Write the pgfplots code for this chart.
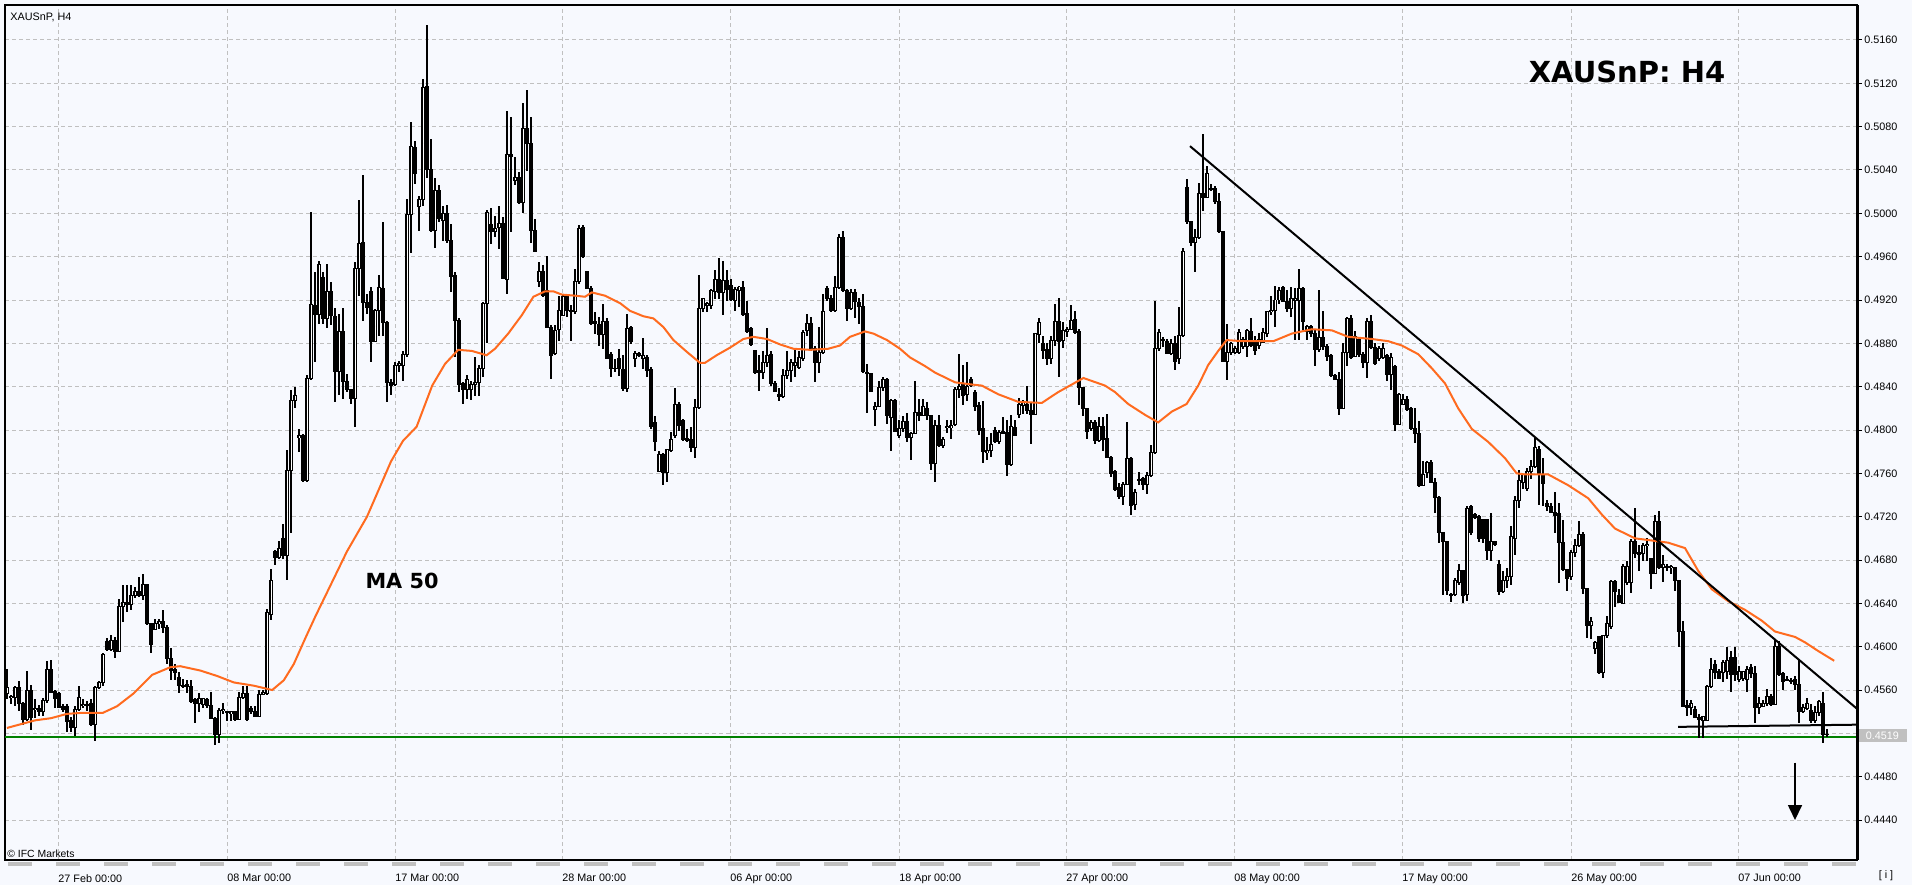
\documentclass[border=0pt]{standalone}
\usepackage{fontspec}
\setmainfont{Liberation Sans}
\newfontfamily\djv{DejaVu Sans}
\usepackage{pgfplots}
\usepackage{pgfplotstable}
\pgfplotsset{compat=1.18}
\usetikzlibrary{arrows.meta}
\definecolor{bgc}{RGB}{247,249,254}
\definecolor{gridc}{RGB}{192,192,192}
\definecolor{maorange}{RGB}{255,107,31}
\definecolor{supgreen}{RGB}{0,128,0}

\pgfplotstableread{
i o h l c
0 0.4557 0.4579 0.4552 0.4562
1 0.4553 0.4555 0.4547 0.4554
2 0.4553 0.4564 0.4545 0.4562
3 0.4562 0.4568 0.4541 0.4548
4 0.4548 0.4549 0.4528 0.4533
5 0.4533 0.4578 0.4531 0.4560
6 0.4560 0.4565 0.4523 0.4535
7 0.4542 0.4552 0.4534 0.4543
8 0.4543 0.4546 0.4536 0.4540
9 0.4540 0.4553 0.4536 0.4550
10 0.4550 0.4587 0.4548 0.4579
11 0.4579 0.4588 0.4557 0.4558
12 0.4559 0.4560 0.4543 0.4552
13 0.4557 0.4558 0.4543 0.4544
14 0.4545 0.4547 0.4540 0.4542
15 0.4545 0.4547 0.4521 0.4531
16 0.4532 0.4535 0.4521 0.4525
17 0.4525 0.4545 0.4518 0.4542
18 0.4542 0.4564 0.4541 0.4553
19 0.4546 0.4552 0.4543 0.4547
20 0.4547 0.4550 0.4541 0.4546
21 0.4548 0.4552 0.4527 0.4528
22 0.4528 0.4564 0.4513 0.4562
23 0.4562 0.4568 0.4561 0.4567
24 0.4567 0.4594 0.4564 0.4593
25 0.4605 0.4608 0.4596 0.4597
26 0.4597 0.4611 0.4596 0.4606
27 0.4606 0.4609 0.4590 0.4596
28 0.4596 0.4644 0.4596 0.4637
29 0.4637 0.4657 0.4623 0.4641
30 0.4641 0.4657 0.4632 0.4639
31 0.4639 0.4657 0.4634 0.4647
32 0.4647 0.4655 0.4645 0.4651
33 0.4651 0.4664 0.4646 0.4647
34 0.4647 0.4667 0.4643 0.4657
35 0.4657 0.4658 0.4620 0.4621
36 0.4621 0.4622 0.4594 0.4602
37 0.4616 0.4626 0.4615 0.4621
38 0.4621 0.4626 0.4616 0.4623
39 0.4623 0.4634 0.4613 0.4618
40 0.4618 0.4620 0.4584 0.4589
41 0.4589 0.4599 0.4569 0.4578
42 0.4579 0.4584 0.4569 0.4576
43 0.4572 0.4577 0.4557 0.4564
44 0.4564 0.4570 0.4562 0.4563
45 0.4565 0.4569 0.4557 0.4563
46 0.4563 0.4569 0.4548 0.4549
47 0.4551 0.4553 0.4530 0.4548
48 0.4548 0.4557 0.4540 0.4552
49 0.4547 0.4553 0.4543 0.4552
50 0.4551 0.4553 0.4543 0.4546
51 0.4546 0.4558 0.4533 0.4534
52 0.4534 0.4535 0.4509 0.4519
53 0.4519 0.4543 0.4511 0.4541
54 0.4541 0.4548 0.4538 0.4542
55 0.4540 0.4541 0.4531 0.4539
56 0.4538 0.4541 0.4531 0.4540
57 0.4540 0.4541 0.4531 0.4533
58 0.4533 0.4558 0.4532 0.4553
59 0.4553 0.4564 0.4552 0.4557
60 0.4557 0.4564 0.4531 0.4533
61 0.4543 0.4545 0.4538 0.4540
62 0.4540 0.4545 0.4535 0.4536
63 0.4536 0.4560 0.4535 0.4556
64 0.4556 0.4560 0.4555 0.4558
65 0.4557 0.4635 0.4555 0.4632
66 0.4630 0.4672 0.4625 0.4661
67 0.4688 0.4689 0.4675 0.4682
68 0.4682 0.4698 0.4681 0.4691
69 0.4700 0.4713 0.4681 0.4684
70 0.4684 0.4782 0.4662 0.4763
71 0.4763 0.4837 0.4705 0.4827
72 0.4827 0.4840 0.4820 0.4832
73 0.4793 0.4801 0.4780 0.4795
74 0.4795 0.4796 0.4752 0.4753
75 0.4753 0.4851 0.4752 0.4848
76 0.4848 0.5001 0.4846 0.4916
77 0.4915 0.4946 0.4863 0.4907
78 0.4907 0.4956 0.4898 0.4953
79 0.4941 0.4946 0.4898 0.4903
80 0.4903 0.4953 0.4894 0.4928
81 0.4928 0.4937 0.4897 0.4906
82 0.4905 0.4913 0.4826 0.4854
83 0.4854 0.4907 0.4832 0.4891
84 0.4891 0.4913 0.4829 0.4845
85 0.4845 0.4852 0.4835 0.4837
86 0.4837 0.4838 0.4824 0.4829
87 0.4829 0.4955 0.4803 0.4949
88 0.4949 0.5012 0.4924 0.4972
89 0.4973 0.5035 0.4901 0.4918
90 0.4918 0.4926 0.4907 0.4913
91 0.4928 0.4932 0.4863 0.4882
92 0.4882 0.4912 0.4881 0.4910
93 0.4910 0.4943 0.4887 0.4932
94 0.4931 0.4992 0.4887 0.4899
95 0.4899 0.4901 0.4826 0.4844
96 0.4844 0.4847 0.4832 0.4841
97 0.4842 0.4863 0.4841 0.4860
98 0.4860 0.4864 0.4854 0.4861
99 0.4860 0.4873 0.4845 0.4870
100 0.4870 0.5013 0.4867 0.4999
101 0.4999 0.5084 0.4963 0.5062
102 0.5061 0.5067 0.5027 0.5037
103 0.5006 0.5016 0.4984 0.5013
104 0.5013 0.5124 0.5007 0.5116
105 0.5117 0.5174 0.5033 0.5041
106 0.5041 0.5069 0.4983 0.4984
107 0.4984 0.5033 0.4968 0.5021
108 0.5021 0.5026 0.4992 0.4995
109 0.4993 0.5007 0.4974 0.5000
110 0.5000 0.5008 0.4973 0.4975
111 0.4975 0.4990 0.4927 0.4942
112 0.4943 0.4946 0.4867 0.4901
113 0.4901 0.4903 0.4835 0.4842
114 0.4843 0.4844 0.4824 0.4837
115 0.4837 0.4851 0.4829 0.4847
116 0.4837 0.4845 0.4828 0.4842
117 0.4842 0.4867 0.4831 0.4844
118 0.4844 0.4860 0.4831 0.4857
119 0.4857 0.4918 0.4849 0.4917
120 0.4917 0.5003 0.4880 0.5001
121 0.4990 0.5005 0.4972 0.4983
122 0.4983 0.4998 0.4978 0.4986
123 0.4987 0.5007 0.4967 0.4991
124 0.4991 0.4997 0.4939 0.4940
125 0.4939 0.5095 0.4926 0.5054
126 0.5054 0.5089 0.4983 0.5053
127 0.5030 0.5052 0.5026 0.5033
128 0.5033 0.5038 0.5009 0.5010
129 0.5010 0.5102 0.5000 0.5078
130 0.5078 0.5114 0.5039 0.5065
131 0.5065 0.5089 0.4973 0.4984
132 0.4984 0.4995 0.4964 0.4965
133 0.4937 0.4955 0.4932 0.4946
134 0.4946 0.4952 0.4923 0.4924
135 0.4929 0.4961 0.4894 0.4895
136 0.4895 0.4897 0.4847 0.4869
137 0.4871 0.4897 0.4869 0.4892
138 0.4893 0.4924 0.4882 0.4910
139 0.4906 0.4926 0.4905 0.4923
140 0.4923 0.4926 0.4904 0.4910
141 0.4910 0.4915 0.4882 0.4909
142 0.4909 0.4949 0.4907 0.4937
143 0.4937 0.4989 0.4935 0.4986
144 0.4987 0.4989 0.4959 0.4960
145 0.4946 0.4947 0.4930 0.4931
146 0.4931 0.4933 0.4897 0.4898
147 0.4900 0.4909 0.4889 0.4898
148 0.4897 0.4904 0.4878 0.4888
149 0.4888 0.4916 0.4875 0.4900
150 0.4900 0.4903 0.4866 0.4866
151 0.4870 0.4872 0.4849 0.4857
152 0.4857 0.4866 0.4854 0.4857
153 0.4866 0.4875 0.4850 0.4857
154 0.4856 0.4869 0.4836 0.4838
155 0.4838 0.4907 0.4835 0.4894
156 0.4895 0.4896 0.4879 0.4882
157 0.4866 0.4873 0.4858 0.4871
158 0.4871 0.4872 0.4867 0.4869
159 0.4866 0.4885 0.4856 0.4869
160 0.4867 0.4869 0.4849 0.4855
161 0.4856 0.4858 0.4801 0.4803
162 0.4807 0.4813 0.4781 0.4789
163 0.4762 0.4781 0.4761 0.4777
164 0.4777 0.4779 0.4749 0.4761
165 0.4761 0.4782 0.4752 0.4782
166 0.4781 0.4798 0.4780 0.4791
167 0.4795 0.4839 0.4793 0.4824
168 0.4824 0.4826 0.4799 0.4804
169 0.4809 0.4810 0.4790 0.4791
170 0.4792 0.4801 0.4789 0.4790
171 0.4791 0.4803 0.4780 0.4784
172 0.4784 0.4829 0.4774 0.4821
173 0.4821 0.4943 0.4819 0.4912
174 0.4912 0.4922 0.4909 0.4921
175 0.4915 0.4918 0.4909 0.4917
176 0.4915 0.4930 0.4912 0.4929
177 0.4928 0.4948 0.4921 0.4939
178 0.4939 0.4959 0.4921 0.4927
179 0.4927 0.4956 0.4906 0.4938
180 0.4938 0.4948 0.4919 0.4930
181 0.4933 0.4939 0.4919 0.4920
182 0.4920 0.4932 0.4910 0.4930
183 0.4929 0.4933 0.4914 0.4932
184 0.4932 0.4938 0.4905 0.4907
185 0.4908 0.4919 0.4890 0.4891
186 0.4894 0.4895 0.4878 0.4879
187 0.4873 0.4874 0.4852 0.4853
188 0.4855 0.4869 0.4836 0.4853
189 0.4853 0.4873 0.4847 0.4862
190 0.4862 0.4894 0.4858 0.4869
191 0.4870 0.4873 0.4841 0.4843
192 0.4843 0.4845 0.4835 0.4836
193 0.4833 0.4839 0.4827 0.4831
194 0.4831 0.4856 0.4830 0.4850
195 0.4850 0.4873 0.4847 0.4855
196 0.4855 0.4866 0.4844 0.4862
197 0.4860 0.4875 0.4849 0.4862
198 0.4858 0.4873 0.4856 0.4867
199 0.4866 0.4892 0.4864 0.4890
200 0.4892 0.4907 0.4887 0.4898
201 0.4898 0.4904 0.4873 0.4875
202 0.4875 0.4878 0.4844 0.4862
203 0.4862 0.4895 0.4853 0.4872
204 0.4872 0.4926 0.4870 0.4909
205 0.4931 0.4933 0.4919 0.4921
206 0.4921 0.4925 0.4909 0.4910
207 0.4910 0.4942 0.4909 0.4932
208 0.4932 0.4981 0.4930 0.4978
209 0.4978 0.4984 0.4927 0.4929
210 0.4929 0.4930 0.4901 0.4912
211 0.4912 0.4930 0.4911 0.4927
212 0.4927 0.4930 0.4903 0.4919
213 0.4918 0.4922 0.4898 0.4914
214 0.4914 0.4926 0.4853 0.4854
215 0.4853 0.4861 0.4816 0.4852
216 0.4852 0.4853 0.4835 0.4836
217 0.4819 0.4826 0.4804 0.4822
218 0.4822 0.4845 0.4821 0.4839
219 0.4839 0.4849 0.4836 0.4847
220 0.4847 0.4848 0.4806 0.4813
221 0.4812 0.4829 0.4781 0.4827
222 0.4827 0.4829 0.4798 0.4799
223 0.4795 0.4809 0.4793 0.4801
224 0.4801 0.4813 0.4798 0.4808
225 0.4808 0.4816 0.4789 0.4793
226 0.4793 0.4798 0.4772 0.4797
227 0.4797 0.4845 0.4796 0.4816
228 0.4816 0.4829 0.4808 0.4813
229 0.4813 0.4829 0.4813 0.4822
230 0.4820 0.4826 0.4809 0.4813
231 0.4813 0.4814 0.4763 0.4769
232 0.4769 0.4809 0.4752 0.4804
233 0.4804 0.4814 0.4784 0.4786
234 0.4786 0.4794 0.4783 0.4791
235 0.4802 0.4809 0.4797 0.4803
236 0.4802 0.4809 0.4792 0.4804
237 0.4805 0.4840 0.4804 0.4837
238 0.4837 0.4870 0.4830 0.4840
239 0.4842 0.4860 0.4823 0.4832
240 0.4833 0.4863 0.4827 0.4840
241 0.4847 0.4849 0.4840 0.4841
242 0.4835 0.4837 0.4818 0.4822
243 0.4823 0.4826 0.4795 0.4800
244 0.4801 0.4827 0.4770 0.4780
245 0.4779 0.4794 0.4772 0.4781
246 0.4781 0.4797 0.4775 0.4787
247 0.4800 0.4803 0.4788 0.4789
248 0.4789 0.4800 0.4787 0.4798
249 0.4799 0.4812 0.4796 0.4797
250 0.4798 0.4809 0.4758 0.4768
251 0.4768 0.4814 0.4767 0.4803
252 0.4802 0.4809 0.4795 0.4795
253 0.4814 0.4830 0.4811 0.4824
254 0.4823 0.4828 0.4815 0.4825
255 0.4824 0.4841 0.4815 0.4818
256 0.4818 0.4826 0.4787 0.4814
257 0.4814 0.4890 0.4814 0.4889
258 0.4888 0.4903 0.4880 0.4899
259 0.4880 0.4887 0.4866 0.4873
260 0.4874 0.4880 0.4860 0.4866
261 0.4866 0.4887 0.4861 0.4883
262 0.4883 0.4916 0.4878 0.4900
263 0.4900 0.4922 0.4849 0.4882
264 0.4883 0.4900 0.4876 0.4892
265 0.4891 0.4895 0.4886 0.4893
266 0.4893 0.4915 0.4892 0.4901
267 0.4902 0.4910 0.4889 0.4890
268 0.4891 0.4893 0.4823 0.4839
269 0.4839 0.4840 0.4813 0.4820
270 0.4820 0.4820 0.4792 0.4799
271 0.4801 0.4809 0.4799 0.4807
272 0.4807 0.4809 0.4787 0.4790
273 0.4790 0.4812 0.4789 0.4803
274 0.4803 0.4812 0.4781 0.4791
275 0.4792 0.4815 0.4774 0.4775
276 0.4775 0.4776 0.4757 0.4760
277 0.4762 0.4763 0.4744 0.4745
278 0.4747 0.4751 0.4736 0.4739
279 0.4739 0.4752 0.4731 0.4750
280 0.4750 0.4807 0.4749 0.4774
281 0.4774 0.4775 0.4722 0.4730
282 0.4731 0.4746 0.4726 0.4742
283 0.4754 0.4761 0.4749 0.4754
284 0.4755 0.4757 0.4745 0.4750
285 0.4750 0.4761 0.4741 0.4758
286 0.4758 0.4786 0.4757 0.4779
287 0.4779 0.4919 0.4778 0.4875
288 0.4875 0.4893 0.4873 0.4890
289 0.4884 0.4886 0.4877 0.4883
290 0.4882 0.4884 0.4870 0.4871
291 0.4871 0.4884 0.4869 0.4880
292 0.4880 0.4887 0.4855 0.4863
293 0.4866 0.4914 0.4861 0.4887
294 0.4887 0.4968 0.4886 0.4965
295 0.5024 0.5032 0.4990 0.4992
296 0.4992 0.4993 0.4970 0.4973
297 0.4973 0.4986 0.4946 0.4978
298 0.4978 0.5028 0.4976 0.5018
299 0.5018 0.5073 0.5002 0.5015
300 0.5015 0.5044 0.5014 0.5037
301 0.5023 0.5027 0.5021 0.5022
302 0.5023 0.5025 0.5009 0.5011
303 0.5011 0.5019 0.4982 0.4983
304 0.4983 0.4984 0.4863 0.4863
305 0.4863 0.4898 0.4846 0.4872
306 0.4872 0.4881 0.4869 0.4880
307 0.4872 0.4878 0.4870 0.4875
308 0.4872 0.4893 0.4870 0.4890
309 0.4877 0.4886 0.4875 0.4884
310 0.4877 0.4893 0.4867 0.4892
311 0.4891 0.4903 0.4877 0.4878
312 0.4881 0.4887 0.4869 0.4873
313 0.4878 0.4890 0.4875 0.4884
314 0.4881 0.4894 0.4880 0.4890
315 0.4889 0.4910 0.4886 0.4909
316 0.4909 0.4924 0.4906 0.4910
317 0.4910 0.4933 0.4895 0.4920
318 0.4920 0.4932 0.4916 0.4929
319 0.4932 0.4933 0.4918 0.4919
320 0.4919 0.4929 0.4909 0.4912
321 0.4912 0.4932 0.4904 0.4921
322 0.4920 0.4931 0.4883 0.4921
323 0.4920 0.4949 0.4883 0.4931
324 0.4931 0.4932 0.4892 0.4900
325 0.4891 0.4897 0.4883 0.4896
326 0.4896 0.4897 0.4886 0.4889
327 0.4889 0.4893 0.4859 0.4874
328 0.4874 0.4929 0.4872 0.4885
329 0.4885 0.4910 0.4874 0.4877
330 0.4877 0.4879 0.4864 0.4868
331 0.4869 0.4870 0.4849 0.4850
332 0.4850 0.4852 0.4846 0.4847
333 0.4847 0.4854 0.4814 0.4820
334 0.4820 0.4880 0.4819 0.4872
335 0.4872 0.4904 0.4859 0.4903
336 0.4903 0.4906 0.4866 0.4867
337 0.4868 0.4891 0.4867 0.4886
338 0.4884 0.4886 0.4867 0.4870
339 0.4870 0.4872 0.4857 0.4862
340 0.4862 0.4903 0.4848 0.4900
341 0.4900 0.4906 0.4875 0.4876
342 0.4876 0.4880 0.4860 0.4861
343 0.4866 0.4878 0.4864 0.4875
344 0.4867 0.4880 0.4866 0.4875
345 0.4869 0.4870 0.4845 0.4851
346 0.4851 0.4871 0.4837 0.4867
347 0.4859 0.4860 0.4799 0.4805
348 0.4805 0.4834 0.4805 0.4833
349 0.4824 0.4833 0.4823 0.4828
350 0.4828 0.4831 0.4818 0.4819
351 0.4820 0.4821 0.4800 0.4801
352 0.4801 0.4820 0.4788 0.4797
353 0.4797 0.4808 0.4747 0.4749
354 0.4749 0.4771 0.4749 0.4759
355 0.4761 0.4771 0.4756 0.4770
356 0.4770 0.4772 0.4752 0.4752
357 0.4752 0.4756 0.4723 0.4738
358 0.4738 0.4739 0.4696 0.4705
359 0.4705 0.4706 0.4648 0.4697
360 0.4697 0.4697 0.4648 0.4652
361 0.4648 0.4650 0.4641 0.4647
362 0.4648 0.4663 0.4647 0.4661
363 0.4659 0.4676 0.4657 0.4670
364 0.4670 0.4671 0.4640 0.4647
365 0.4648 0.4730 0.4642 0.4728
366 0.4729 0.4731 0.4703 0.4705
367 0.4722 0.4723 0.4718 0.4719
368 0.4720 0.4722 0.4697 0.4700
369 0.4717 0.4718 0.4696 0.4700
370 0.4717 0.4718 0.4680 0.4689
371 0.4689 0.4723 0.4679 0.4697
372 0.4697 0.4697 0.4693 0.4694
373 0.4676 0.4680 0.4648 0.4651
374 0.4651 0.4670 0.4650 0.4661
375 0.4661 0.4673 0.4654 0.4665
376 0.4665 0.4711 0.4657 0.4702
377 0.4700 0.4739 0.4685 0.4735
378 0.4735 0.4763 0.4728 0.4753
379 0.4752 0.4759 0.4746 0.4759
380 0.4746 0.4765 0.4744 0.4762
381 0.4762 0.4772 0.4755 0.4766
382 0.4766 0.4794 0.4765 0.4784
383 0.4782 0.4785 0.4731 0.4759
384 0.4759 0.4774 0.4730 0.4751
385 0.4732 0.4735 0.4725 0.4729
386 0.4729 0.4733 0.4723 0.4724
387 0.4724 0.4743 0.4705 0.4721
388 0.4723 0.4733 0.4659 0.4696
389 0.4696 0.4717 0.4670 0.4671
390 0.4671 0.4672 0.4651 0.4663
391 0.4665 0.4689 0.4662 0.4687
392 0.4687 0.4699 0.4683 0.4693
393 0.4693 0.4716 0.4692 0.4704
394 0.4704 0.4706 0.4649 0.4654
395 0.4654 0.4654 0.4608 0.4620
396 0.4620 0.4627 0.4607 0.4623
397 0.4598 0.4605 0.4593 0.4604
398 0.4609 0.4610 0.4575 0.4576
399 0.4576 0.4611 0.4571 0.4610
400 0.4610 0.4628 0.4608 0.4621
401 0.4619 0.4662 0.4616 0.4660
402 0.4660 0.4662 0.4637 0.4651
403 0.4647 0.4653 0.4640 0.4641
404 0.4640 0.4676 0.4639 0.4674
405 0.4659 0.4679 0.4657 0.4674
406 0.4659 0.4699 0.4650 0.4697
407 0.4697 0.4728 0.4682 0.4686
408 0.4687 0.4694 0.4670 0.4685
409 0.4686 0.4696 0.4679 0.4693
410 0.4693 0.4700 0.4679 0.4694
411 0.4681 0.4682 0.4653 0.4668
412 0.4668 0.4722 0.4667 0.4716
413 0.4716 0.4725 0.4672 0.4673
414 0.4673 0.4685 0.4660 0.4676
415 0.4674 0.4676 0.4670 0.4673
416 0.4673 0.4675 0.4667 0.4674
417 0.4673 0.4674 0.4651 0.4661
418 0.4661 0.4662 0.4600 0.4614
419 0.4614 0.4624 0.4544 0.4545
420 0.4546 0.4551 0.4536 0.4544
421 0.4544 0.4551 0.4537 0.4548
422 0.4542 0.4545 0.4534 0.4535
423 0.4535 0.4538 0.4516 0.4533
424 0.4532 0.4536 0.4516 0.4536
425 0.4532 0.4565 0.4531 0.4563
426 0.4563 0.4590 0.4562 0.4579
427 0.4584 0.4588 0.4570 0.4576
428 0.4577 0.4579 0.4571 0.4571
429 0.4576 0.4588 0.4567 0.4585
430 0.4577 0.4600 0.4570 0.4587
431 0.4590 0.4596 0.4558 0.4574
432 0.4590 0.4600 0.4568 0.4574
433 0.4570 0.4582 0.4567 0.4577
434 0.4571 0.4577 0.4568 0.4577
435 0.4570 0.4582 0.4558 0.4579
436 0.4581 0.4584 0.4571 0.4575
437 0.4575 0.4582 0.4530 0.4544
438 0.4544 0.4554 0.4538 0.4548
439 0.4545 0.4551 0.4544 0.4548
440 0.4548 0.4561 0.4545 0.4554
441 0.4554 0.4556 0.4545 0.4547
442 0.4547 0.4607 0.4546 0.4600
443 0.4600 0.4605 0.4573 0.4574
444 0.4575 0.4577 0.4560 0.4568
445 0.4570 0.4573 0.4568 0.4569
446 0.4569 0.4571 0.4566 0.4568
447 0.4570 0.4573 0.4560 0.4565
448 0.4565 0.4589 0.4530 0.4540
449 0.4540 0.4547 0.4539 0.4544
450 0.4543 0.4553 0.4542 0.4548
451 0.4541 0.4547 0.4530 0.4532
452 0.4532 0.4545 0.4530 0.4539
453 0.4539 0.4551 0.4536 0.4549
454 0.4548 0.4558 0.4511 0.4519
455 0.4519 0.4524 0.4517 0.4519
}\candles

\begin{document}
\begin{tikzpicture}
\fill[bgc] (-2.5pt,-12.5pt) rectangle (953.5pt,430pt);
\begin{axis}[
  at={(0,0)}, anchor=south west,
  scale only axis, width=926pt, height=427.5pt,
  xmin=-0.5, xmax=462.5, ymin=0.44031, ymax=0.51923,
  clip=false,
  axis background/.style={fill=bgc},
  axis line style={black, line width=0.6pt},
  xtick={12.75,55,97,138.75,180.75,223,264.75,306.75,348.75,391,432.75},
  xticklabels={27 Feb 00:00,08 Mar 00:00,17 Mar 00:00,28 Mar 00:00,06 Apr 00:00,18 Apr 00:00,27 Apr 00:00,08 May 00:00,17 May 00:00,26 May 00:00,07 Jun 00:00},
  ytick={0.4440,0.4480,0.4520,0.4560,0.4600,0.4640,0.4680,0.4720,0.4760,0.4800,0.4840,0.4880,0.4920,0.4960,0.5000,0.5040,0.5080,0.5120,0.5160},
  yticklabels={0.4440,0.4480,{},0.4560,0.4600,0.4640,0.4680,0.4720,0.4760,0.4800,0.4840,0.4880,0.4920,0.4960,0.5000,0.5040,0.5080,0.5120,0.5160},
  ytick pos=right, yticklabel pos=right, xtick pos=bottom,
  tick align=outside,
  major tick length=2.5pt,
  x tick style={draw=none},
  y tick style={black, line width=0.5pt},
  tick label style={font=\fontsize{5.4}{6}\selectfont, text=black},
  yticklabel style={anchor=west, inner sep=0pt, xshift=1pt},
  xticklabel style={anchor=north west, inner sep=0pt, yshift=-4.5pt},
  grid=major,
  major grid style={gridc, line width=0.5pt, dash pattern=on 2pt off 1.5pt},
  candle/.style={only marks, mark=*, mark size=0pt, mark options={draw=none, fill=none}},
]
% support (green)
\draw[supgreen, line width=1pt] (axis cs:-0.5,0.4517) -- (axis cs:462.5,0.4517);

% wicks
\addplot[candle,
  error bars/.cd, y dir=both, y explicit, error mark=none,
  error bar style={draw=black, line width=0.55pt}]
  table[x=i, y expr={(\thisrow{h}+\thisrow{l})/2}, y error expr={(\thisrow{h}-\thisrow{l})/2}] {\candles};
% bodies (outline / black)
\addplot[candle,
  error bars/.cd, y dir=both, y explicit, error mark=none,
  error bar style={draw=black, line width=1.6pt}]
  table[x=i, y expr={(\thisrow{o}+\thisrow{c})/2}, y error expr={abs(\thisrow{c}-\thisrow{o})/2+0.000046}] {\candles};
% white interiors of rising candles
\addplot[candle, unbounded coords=discard,
  error bars/.cd, y dir=both, y explicit, error mark=none,
  error bar style={draw=white, line width=0.5pt}]
  table[x=i, y expr={\thisrow{c}>\thisrow{o} ? (\thisrow{o}+\thisrow{c})/2 : nan}, y error expr={max((\thisrow{c}-\thisrow{o})/2-0.000046,0)}] {\candles};

% MA 50
\addplot[maorange, line width=1pt, mark=none] coordinates {
(0,0.4525) (3,0.4528) (7,0.4532) (11,0.4534) (15,0.4538) (19,0.4539) (24,0.4539) (27.5,0.4545) (31.7,0.4557) (36.3,0.4574) (40.8,0.4581) (43.3,0.4582) (48.3,0.4578) (52.5,0.4573) (56.7,0.4567) (61.7,0.4564) (66.3,0.4560) (69.2,0.4569) (71.7,0.4584) (74.6,0.4608) (77.1,0.4628) (80,0.4650) (85,0.4688) (90,0.4720) (96,0.4771) (99,0.4790) (102.4,0.4803) (106.3,0.4841) (109.5,0.4861) (112.8,0.4874) (116.2,0.4873) (119.9,0.4869) (122,0.4875) (125.3,0.4889) (128.7,0.4906) (131.6,0.4923) (134.5,0.4928) (136.6,0.4928) (138.7,0.4925) (142,0.4924) (144.5,0.4923) (146.2,0.4927) (149.5,0.4924) (153.3,0.4917) (155.75,0.4910) (159.1,0.4905) (161.6,0.4903) (164.1,0.4895) (166.6,0.4883) (170,0.4872) (173.25,0.4862) (174.5,0.4862) (177.4,0.4869) (180.75,0.4876) (184.1,0.4884) (186.6,0.4886) (190,0.4884) (193.25,0.4879) (196.6,0.4875) (200.75,0.4874) (205.3,0.4875) (208.25,0.4878) (210.75,0.4886) (214.5,0.4891) (216.6,0.4889) (220,0.4883) (223.25,0.4875) (225.75,0.4867) (229.5,0.4859) (232,0.4853) (237,0.4844) (241.2,0.4842) (243.7,0.4841) (247.8,0.4833) (252.8,0.4826) (258.7,0.4825) (262.8,0.4835) (266.2,0.4842) (269.1,0.4848) (274.5,0.4841) (277,0.4835) (280.3,0.4824) (284.5,0.4814) (287.8,0.4807) (291.2,0.4817) (294.9,0.4824) (297.8,0.4841) (300.3,0.4860) (302.8,0.4873) (304.9,0.4883) (308.8,0.4882) (316.6,0.4882) (321.2,0.4889) (326.2,0.4893) (331.2,0.4892) (335.3,0.4886) (341.2,0.4884) (345.3,0.4882) (348.7,0.4878) (352.8,0.4870) (356.2,0.4857) (359.5,0.4843) (362.8,0.4820) (366.2,0.4801) (370.3,0.4789) (374.5,0.4774) (377.4,0.4760) (379.5,0.4759) (384,0.4759) (385.3,0.4759) (390.3,0.4749) (395.3,0.4737) (398.7,0.4722) (402,0.4709) (407,0.4700) (411.2,0.4698) (415.3,0.4696) (419.5,0.4691) (422.8,0.4670) (426.2,0.4653) (430.3,0.4642) (434.5,0.4634) (438.7,0.4624) (442,0.4614) (447,0.4609) (449.5,0.4604) (452.8,0.4596) (456.8,0.4587)
};

% trend lines
\draw[black, line width=1pt] (axis cs:295.75,0.5062) -- (axis cs:462.4,0.4543);
\draw[black, line width=1pt] (axis cs:417.75,0.4526) -- (axis cs:462.5,0.4528);
% arrow
\draw[black, line width=0.8pt, -{Triangle[width=7pt,length=7.5pt]}] (axis cs:447,0.4493) -- (axis cs:447,0.4440);

% texts
\node[anchor=base, font=\djv\bfseries\fontsize{14.5}{17}\selectfont, inner sep=0pt] at (axis cs:405,0.51212) {XAUSnP: H4};
\node[anchor=base, font=\djv\bfseries\fontsize{10.4}{12}\selectfont, inner sep=0pt] at (axis cs:98.75,0.46541) {MA 50};
\node[anchor=base west, font=\fontsize{5.4}{6}\selectfont, inner sep=0pt] at (axis cs:0.75,0.51778) {XAUSnP, H4};
\node[anchor=base west, font=\fontsize{5.2}{6}\selectfont, inner sep=0pt] at (axis cs:0,0.44058) {© IFC Markets};
% current price box
\node[anchor=west, fill=gridc, text=white, font=\fontsize{5.4}{6}\selectfont, inner xsep=1.5pt, inner ysep=0pt, minimum height=6.5pt, minimum width=25pt, align=left] at (axis cs:462.5,0.45180) {0.4519};
\end{axis}
% scroll strip under the frame
\draw[gridc, line width=2pt, dash pattern=on 12pt off 12pt] (1.5pt,-2pt) -- (926pt,-2pt);
% thick right border
\draw[black, line width=1.5pt] (926pt,0) -- (926pt,427.5pt);
\node[font=\fontsize{5.4}{6}\selectfont, inner sep=0pt] at (940.5pt,-8pt) {[ i ]};
\pgfresetboundingbox
\useasboundingbox (-2.5pt,-12.5pt) rectangle (953.5pt,430pt);
\end{tikzpicture}
\end{document}
